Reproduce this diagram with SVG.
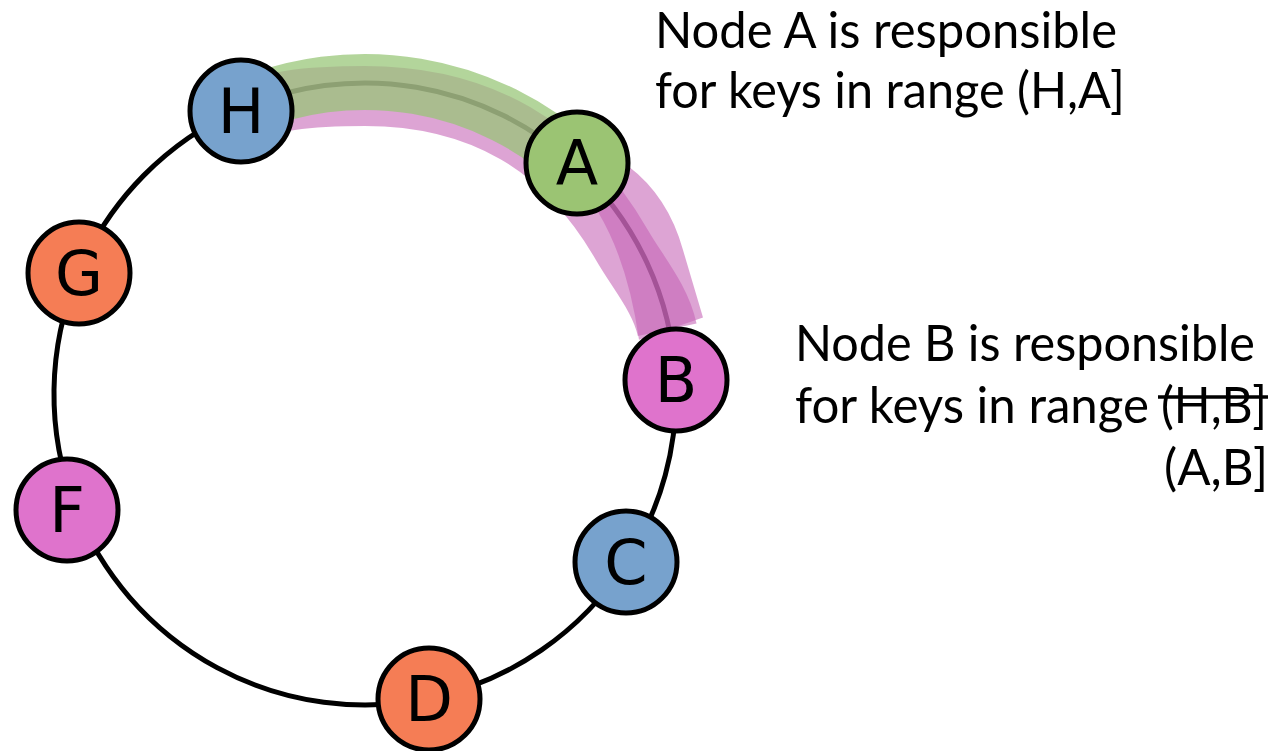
<svg xmlns="http://www.w3.org/2000/svg" width="1278" height="751" viewBox="0 0 1278 751">
  <style>
    .ring { fill: none; stroke: #000; stroke-width: 5; }
    .node circle { stroke: #000; stroke-width: 5; }
    .node text { font-family: "DejaVu Sans", Verdana, sans-serif; font-size: 62px; text-anchor: middle; fill: #000; }
    .blue { fill: #77a2cd; }
    .green { fill: #9bc473; }
    .pink { fill: #df73cc; }
    .orange { fill: #f57d55; }
    .label { font-family: Lato, "Open Sans", sans-serif; font-size: 50px; fill: #000; }
    .range-old { fill: none; stroke: #c565b6; stroke-opacity: 0.59; stroke-width: 60; }
    .range-new { fill: #c565b6; fill-opacity: 0.59; }
    .range-a { fill: none; stroke: #97c576; stroke-opacity: 0.73; stroke-width: 56; }
  </style>

  <!-- ring segments between neighbouring nodes (centre 365,394, r 311) -->
  <g id="connectors">
    <path class="ring" d="M240,109.2 A311,311 0 0 1 575.9,165.4"/>
    <path class="ring" d="M575.9,165.4 A311,311 0 0 1 675.7,379.9"/>
    <path class="ring" d="M675.7,379.9 A311,311 0 0 1 626.4,562.5"/>
    <path class="ring" d="M626.4,562.5 A311,311 0 0 1 429.1,698.3"/>
    <path class="ring" d="M429.1,698.3 A311,311 0 0 1 75.2,507"/>
    <path class="ring" d="M75.2,507 A311,311 0 0 1 78.5,273"/>
    <path class="ring" d="M78.5,273 A311,311 0 0 1 240,109.2"/>
  </g>

  <!-- key ranges drawn as translucent bands along the ring -->
  <g id="ranges">
    <!-- old range of B: (H,B] -->
    <path class="range-old" d="M220.4,122.1 C264.2,98.8 315.4,96 365,96 C417.7,96 469.9,106.9 515.5,133.3 C561,159.6 595.9,200 622.2,245.5 C638.1,273 660.6,298.7 667.2,329.8"/>
    <!-- new range of B: (A,B] -->
    <path class="range-new" d="M628,166 Q668,196 683,250 L703,317.5 L639,339.8 Q628,262 598,212 Z"/>
    <!-- range of A: (H,A] -->
    <path class="range-a" d="M239.6,108.2 A312,312 0 0 1 576.5,164.7"/>
  </g>

  <g id="node-H" class="node">
    <circle class="blue" cx="241" cy="111" r="51"/>
    <text x="241" y="133">H</text>
  </g>
  <g id="node-A" class="node">
    <circle class="green" cx="577" cy="163" r="51"/>
    <text x="577" y="185">A</text>
  </g>
  <g id="node-B" class="node">
    <circle class="pink" cx="676" cy="380" r="51"/>
    <text x="676" y="402">B</text>
  </g>
  <g id="node-C" class="node">
    <circle class="blue" cx="626" cy="562" r="51"/>
    <text x="626" y="584">C</text>
  </g>
  <g id="node-D" class="node">
    <circle class="orange" cx="429" cy="699" r="51"/>
    <text x="429" y="721">D</text>
  </g>
  <g id="node-F" class="node">
    <circle class="pink" cx="67" cy="510" r="51"/>
    <text x="67" y="532">F</text>
  </g>
  <g id="node-G" class="node">
    <circle class="orange" cx="79" cy="273" r="51"/>
    <text x="79" y="295">G</text>
  </g>

  <!-- annotations -->
  <g id="label-A">
    <text class="label" x="655" y="48" textLength="462" lengthAdjust="spacingAndGlyphs">Node A is responsible</text>
    <text class="label" x="655" y="108" textLength="470" lengthAdjust="spacingAndGlyphs">for keys in range (H,A]</text>
  </g>
  <g id="label-B">
    <text class="label" x="795" y="361" textLength="460" lengthAdjust="spacingAndGlyphs">Node B is responsible</text>
    <text class="label" x="795" y="423" textLength="354" lengthAdjust="spacingAndGlyphs">for keys in range</text>
    <text class="label" x="1161" y="423" textLength="106" lengthAdjust="spacingAndGlyphs">(H,B]</text>
    <line x1="1158" y1="397" x2="1268" y2="397" stroke="#000" stroke-width="3.5"/>
    <text class="label" x="1164" y="485" textLength="104" lengthAdjust="spacingAndGlyphs">(A,B]</text>
  </g>
</svg>
